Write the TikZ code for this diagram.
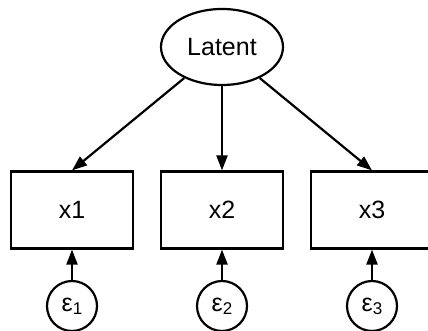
\documentclass[tikz,border=0pt]{standalone}
\usepackage{fontspec}
\setmainfont{Liberation Sans}
\usetikzlibrary{arrows.meta}
\usetikzlibrary{shapes.geometric}

\newcommand{\errlabel}[1]{ε{\fontsize{17}{17}\selectfont\raisebox{-3pt}{#1}}}

\begin{document}
\begin{tikzpicture}[x=1pt, y=-1pt, line width=2.2pt,
  every node/.style={font=\fontsize{25}{30}\selectfont},
  latentvar/.style={draw, ellipse, minimum width=122pt, minimum height=76pt, inner sep=0pt},
  obsvar/.style={draw, rectangle, minimum width=122pt, minimum height=77pt},
  errvar/.style={draw, circle, minimum size=50pt, inner sep=0pt},
  loading/.style={arrows=-{Triangle[length=15pt, width=11pt]}}]
  \useasboundingbox (0,0) rectangle (428,331);
  \node[latentvar] (lat) at (222,47) {Latent};
  \node[obsvar] (x1) at (72,210) {x1};
  \node[obsvar] (x2) at (222,210) {x2};
  \node[obsvar] (x3) at (372,210) {x3};
  \node[errvar] (e1) at (72,306) {\errlabel{1}};
  \node[errvar] (e2) at (222,306) {\errlabel{2}};
  \node[errvar] (e3) at (372,306) {\errlabel{3}};
  \path[draw, loading] (lat) -- (x1.north);
  \path[draw, loading] (lat) -- (x2.north);
  \path[draw, loading] (lat) -- (x3.north);
  \path[draw, loading] (e1) -- (x1.south);
  \path[draw, loading] (e2) -- (x2.south);
  \path[draw, loading] (e3) -- (x3.south);
\end{tikzpicture}
\end{document}
